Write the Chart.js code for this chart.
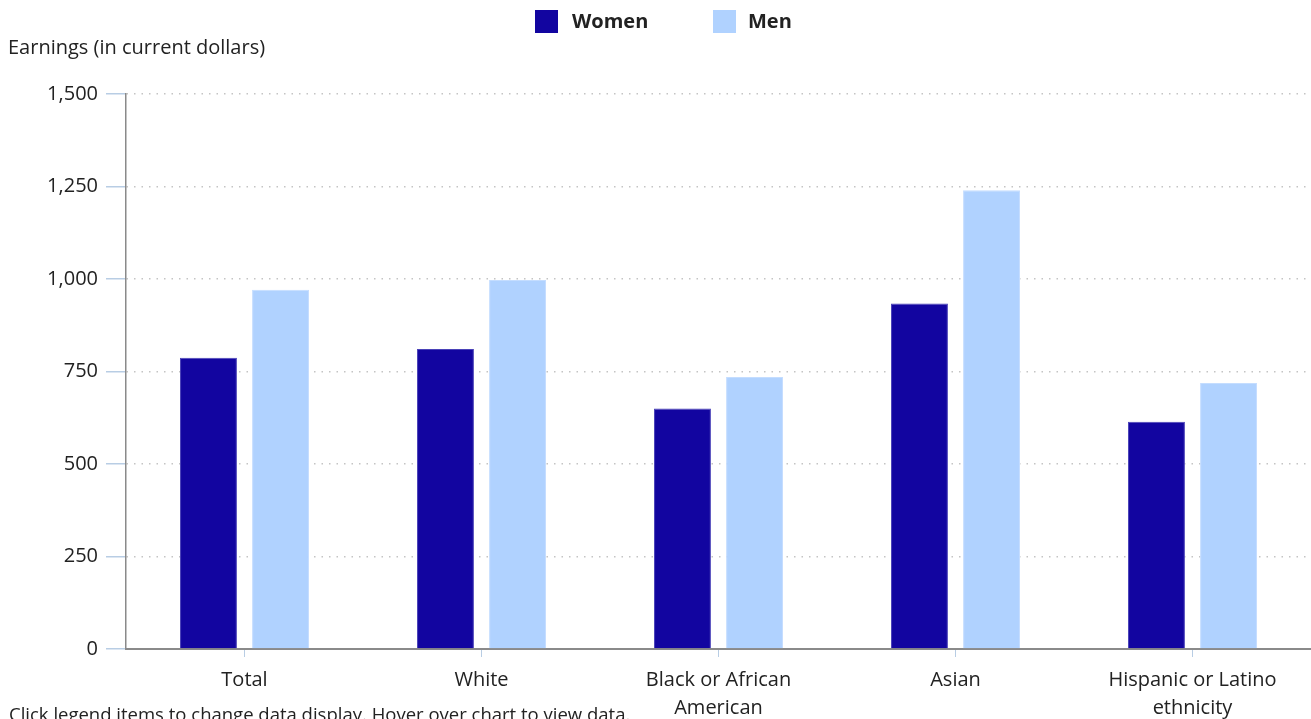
<!DOCTYPE html>
<html>
<head>
<meta charset="utf-8">
<script src="https://cdn.jsdelivr.net/npm/chart.js@4"></script>
<style>
  html, body { margin: 0; padding: 0; background: #fff; overflow: hidden; }
  #wrap { position: relative; width: 1311px; height: 719px; font-family: "Open Sans", sans-serif; color: #222; }
  #note { position: absolute; left: 9px; top: 701px; font-size: 18.5px; white-space: nowrap; }
  .leg { position: absolute; top: 10px; cursor: pointer; font-size: 20px; font-weight: bold; line-height: 23px; }
  .leg .box { position: absolute; left: 0; top: 0; width: 23px; height: 23px; }
  .leg .txt { position: absolute; top: -1px; white-space: nowrap; }
  .leg.off .txt { text-decoration: line-through; }
</style>
</head>
<body>
<div id="wrap">
  <canvas id="bar-chart" width="1311" height="719"></canvas>
  <div class="leg" id="leg0" style="left:535px"><span class="box" style="background:#1205a0"></span><span class="txt" style="left:37px">Women</span></div>
  <div class="leg" id="leg1" style="left:713px"><span class="box" style="background:#b0d2ff"></span><span class="txt" style="left:35px">Men</span></div>
  <div id="note">Click legend items to change data display. Hover over chart to view data.</div>
</div>
<script>
const categories = ["Total", "White", ["Black or African", "American"], "Asian", ["Hispanic or Latino", "ethnicity"]];
const seriesNames = ["Women", "Men"];
const women = [787, 811, 650, 934, 614];
const men = [971, 997, 735, 1240, 719];
const yTicks = [0, 250, 500, 750, 1000, 1250, 1500];

const FONT = "'Open Sans', sans-serif";
const textColor = "#222";

const chart = new Chart(document.getElementById("bar-chart"), {
  type: "bar",
  data: {
    labels: categories,
    datasets: [
      {
        label: seriesNames[0],
        data: women,
        backgroundColor: "#1205a0",
        borderColor: "#4a42b8",
        borderWidth: 1,
        categoryPercentage: 0.608,
        barPercentage: 0.79,
      },
      {
        label: seriesNames[1],
        data: men,
        backgroundColor: "#b0d2ff",
        borderColor: "#c4ddff",
        borderWidth: 1,
        categoryPercentage: 0.608,
        barPercentage: 0.79,
      },
    ],
  },
  options: {
    responsive: false,
    animation: false,
    layout: { padding: { left: 8, right: 0, top: 36, bottom: -12 } },
    plugins: {
      legend: { display: false },
      title: {
        display: true,
        text: "Earnings (in current dollars)",
        align: "start",
        color: textColor,
        font: { family: FONT, size: 20, weight: "normal" },
        padding: { top: 0, bottom: 34 },
      },
    },
    scales: {
      x: {
        offset: true,
        grid: {
          offset: false,
          drawOnChartArea: false,
          drawTicks: true,
          tickLength: 8,
          tickColor: "#b8cde4",
        },
        border: { color: "#8a8a8a", width: 2 },
        ticks: {
          color: textColor,
          padding: 9,
          font: { family: FONT, size: 20, lineHeight: 1.4 },
          maxRotation: 0,
          autoSkip: false,
        },
      },
      y: {
        min: 0,
        max: 1500,
        afterBuildTicks: (axis) => {
          axis.ticks = yTicks.map((v) => ({ value: v }));
        },
        afterFit: (axis) => {
          axis.width = 118;
        },
        grid: {
          color: "#c4c4c4",
          lineWidth: 1.5,
          tickLength: 20,
          tickColor: "#b8cde4",
          tickBorderDash: [],
        },
        border: { color: "#8a8a8a", width: 1.5, dash: [1.5, 6] },
        ticks: {
          color: textColor,
          padding: 8,
          font: { family: FONT, size: 20 },
          callback: (v) => v.toLocaleString("en-US"),
        },
      },
    },
  },
});

// html legend, toggles the series like the built-in one
seriesNames.forEach((name, i) => {
  const el = document.getElementById("leg" + i);
  el.addEventListener("click", () => {
    const vis = chart.isDatasetVisible(i);
    chart.setDatasetVisibility(i, !vis);
    el.classList.toggle("off", vis);
    chart.update();
  });
});
</script>
</body>
</html>
